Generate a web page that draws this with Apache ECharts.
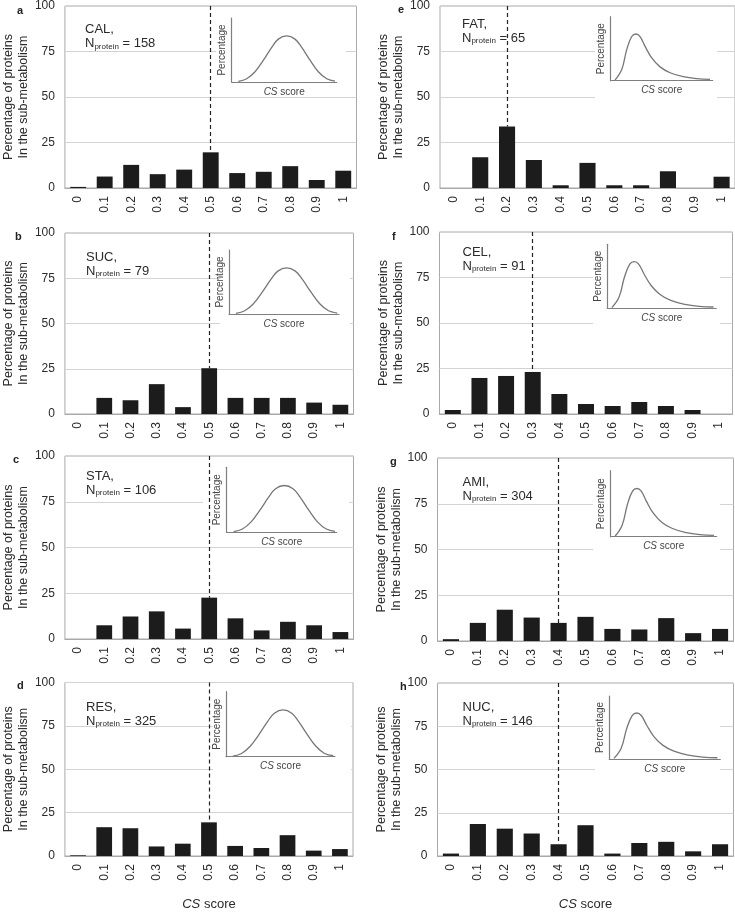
<!DOCTYPE html>
<html>
<head>
<meta charset="utf-8">
<script src="https://cdn.jsdelivr.net/npm/echarts@6/dist/echarts.min.js"></script>
<style>
  html, body { margin: 0; padding: 0; background: #fff; }
  #chart { width: 735px; height: 912px; }
</style>
</head>
<body>
<div id="chart"></div>
<script>
// CS score bins (x categories) and y ticks
const csBins = ['0', '0.1', '0.2', '0.3', '0.4', '0.5', '0.6', '0.7', '0.8', '0.9', '1'];
const yTicks = [0, 25, 50, 75, 100];

// panels a..h
const panelLetters = ['a', 'b', 'c', 'd', 'e', 'f', 'g', 'h'];
const groupNames = ['CAL', 'SUC', 'STA', 'RES', 'FAT', 'CEL', 'AMI', 'NUC'];
const nProtein = [158, 79, 106, 325, 65, 91, 304, 146];
const markedBin = ['0.5', '0.5', '0.5', '0.5', '0.2', '0.3', '0.4', '0.4'];

// percentage of proteins per bin
const calPct = [0.6, 6.3, 12.7, 7.6, 10.1, 19.6, 8.2, 8.9, 12.0, 4.4, 9.5];
const sucPct = [0, 8.9, 7.6, 16.5, 3.8, 25.3, 8.9, 8.9, 8.9, 6.3, 5.1];
const staPct = [0, 7.5, 12.3, 15.1, 5.7, 22.6, 11.3, 4.7, 9.4, 7.5, 3.8];
const resPct = [0.4, 16.6, 16.0, 5.5, 7.1, 19.4, 5.8, 4.6, 12.0, 3.1, 4.0];
const fatPct = [0, 16.9, 33.8, 15.4, 1.5, 13.8, 1.5, 1.5, 9.2, 0, 6.2];
const celPct = [2.2, 19.8, 20.9, 23.1, 11.0, 5.5, 4.4, 6.6, 4.4, 2.2, 0];
const amiPct = [1.0, 9.9, 17.1, 12.8, 9.9, 13.2, 6.6, 6.3, 12.5, 4.3, 6.6];
const nucPct = [1.4, 18.5, 15.8, 13.0, 6.8, 17.8, 1.4, 7.5, 8.2, 2.7, 6.8];
const panelPct = [calPct, sucPct, staPct, resPct, fatPct, celPct, amiPct, nucPct];

// inset sketch curves (0-100 scale)
const bellX = [6.3, 14.3, 22.2, 30.2, 38.1, 44.4, 52.4, 60.3, 66.7, 74.6, 82.5, 90.5, 98.4];
const bellY = [1, 5, 16, 34, 54, 67, 72, 67, 54, 34, 16, 5, 1.5];
const skewX = [4.2, 10.8, 15.7, 20.6, 24.8, 28.8, 33.7, 40.2, 48.4, 58.2, 71.2, 84.3, 97.4];
const skewY = [1, 17.5, 48.5, 69, 73, 69, 53.6, 35.6, 21.6, 12.4, 6.2, 3.1, 2];

// layout: grid / inset [left, top, width, height], white box behind inset, letter and note positions
const layout = [
  { grid: [61.5, 5, 295, 183],   inset: [231.7, 18, 105, 64],    box: [216, 7, 130, 90],     letter: [12, 0],    note: [80, 17.5],  bell: true },
  { grid: [59.5, 233, 294, 181], inset: [229, 250, 110, 64],     box: [220, 235, 130, 91],   letter: [10, 226],  note: [81, 245],   bell: true },
  { grid: [59.5, 456, 294, 183], inset: [226.7, 467.3, 110, 65], box: [203, 458, 146, 88],   letter: [8, 449.5], note: [81, 464],   bell: true },
  { grid: [58, 682.5, 295, 180], inset: [226, 691.7, 109, 65],   box: [213, 684.5, 138, 86], letter: [12, 675],  note: [81, 695],   bell: true, xName: true },
  { grid: [440, 6, 295, 182],    inset: [610.7, 16.7, 102, 64],  box: [595, 8, 122, 90],     letter: [393, -1],  note: [457, 12],   bell: false },
  { grid: [439.5, 232, 293, 182], inset: [607.3, 244.3, 109, 64], box: [593, 234, 127, 91],  letter: [387, 226], note: [457.5, 240], bell: false },
  { grid: [437.5, 458, 296, 183], inset: [610.7, 470.7, 106, 66], box: [593, 460, 127, 91],  letter: [385, 451], note: [457.5, 470], bell: false },
  { grid: [437.5, 683, 296, 181], inset: [609.3, 696, 111, 63],  box: [595, 685, 125, 91],   letter: [395, 676], note: [457.5, 695], bell: false, xName: true }
];

const FONT = '"Liberation Sans", Arial, sans-serif';
const TXT = '#2b2b2b';

const grids = [], xAxes = [], yAxes = [], series = [], titles = [], graphics = [];

// main histograms
layout.forEach((L, i) => {
  const vals = panelPct[i];
  grids.push({
    left: L.grid[0], top: L.grid[1], width: L.grid[2], height: L.grid[3],
    show: true, borderColor: '#a9a9a9', borderWidth: 1
  });
  xAxes.push({
    type: 'category', gridIndex: i, data: csBins,
    axisTick: { show: false },
    axisLine: { lineStyle: { color: '#a9a9a9', width: 1 } },
    axisLabel: { rotate: 90, fontSize: 12, color: TXT, margin: 8, fontFamily: FONT },
    name: L.xName ? '{i|CS} score' : '',
    nameLocation: 'middle', nameGap: 42,
    nameTextStyle: {
      fontSize: 13, color: TXT, fontFamily: FONT,
      rich: { i: { fontStyle: 'italic', fontSize: 13, color: TXT, fontFamily: FONT } }
    }
  });
  yAxes.push({
    type: 'value', gridIndex: i,
    min: yTicks[0], max: yTicks[yTicks.length - 1], interval: yTicks[1] - yTicks[0],
    axisLine: { show: false }, axisTick: { show: false },
    axisLabel: { fontSize: 12, color: TXT, margin: 10, fontFamily: FONT },
    splitLine: { lineStyle: { color: '#d3d3d3', width: 1 } },
    name: 'Percentage of proteins\nIn the sub-metabolism',
    nameLocation: 'middle', nameGap: 30,
    nameTextStyle: { fontSize: 12.5, lineHeight: 15, color: TXT, fontFamily: FONT }
  });
  const mi = csBins.indexOf(markedBin[i]);
  series.push({
    type: 'bar', xAxisIndex: i, yAxisIndex: i, data: vals,
    barWidth: '60%',
    itemStyle: { color: '#1c1c1c' },
    markLine: {
      silent: true, symbol: ['none', 'none'], label: { show: false },
      lineStyle: { type: [4, 3], color: '#222', width: 1.2 },
      data: [[{ coord: [markedBin[i], yTicks[yTicks.length - 1]] }, { coord: [markedBin[i], vals[mi]] }]]
    }
  });
  titles.push({
    left: L.letter[0], top: L.letter[1], text: panelLetters[i],
    textStyle: { fontSize: 11, fontWeight: 'bold', color: '#222', fontFamily: FONT }
  });
  titles.push({
    left: L.note[0], top: L.note[1],
    text: '{t|' + groupNames[i] + ',}\n{t|N}{s|protein}{t| = ' + nProtein[i] + '}',
    textStyle: {
      fontWeight: 'normal',
      rich: {
        t: { fontSize: 13, fontWeight: 'normal', lineHeight: 14, color: TXT, fontFamily: FONT },
        s: { fontSize: 8, fontWeight: 'normal', lineHeight: 5, verticalAlign: 'bottom', color: TXT, fontFamily: FONT }
      }
    }
  });
  graphics.push({
    type: 'rect', z: 1, silent: true,
    shape: { x: L.box[0], y: L.box[1], width: L.box[2], height: L.box[3] },
    style: { fill: '#fff' }
  });
});

// inset sketches
layout.forEach((L, i) => {
  const k = 8 + i;
  const cx = L.bell ? bellX : skewX;
  const cy = L.bell ? bellY : skewY;
  grids.push({ left: L.inset[0], top: L.inset[1], width: L.inset[2], height: L.inset[3] });
  xAxes.push({
    type: 'value', gridIndex: k, min: 0, max: 100, z: 4,
    axisLine: { show: true, onZero: false, lineStyle: { color: '#7f7f7f', width: 1.2 } },
    axisTick: { show: false }, axisLabel: { show: false }, splitLine: { show: false },
    name: '{i|CS} score', nameLocation: 'middle', nameGap: 5,
    nameTextStyle: {
      fontSize: 10, color: '#444', fontFamily: FONT, verticalAlign: 'top',
      rich: { i: { fontStyle: 'italic', fontSize: 10, color: '#444', fontFamily: FONT } }
    }
  });
  yAxes.push({
    type: 'value', gridIndex: k, min: 0, max: 100, z: 4,
    axisLine: { show: true, onZero: false, lineStyle: { color: '#7f7f7f', width: 1.2 } },
    axisTick: { show: false }, axisLabel: { show: false }, splitLine: { show: false },
    name: 'Percentage', nameLocation: 'middle', nameGap: 4,
    nameTextStyle: { fontSize: 10, color: '#444', fontFamily: FONT }
  });
  series.push({
    type: 'line', xAxisIndex: k, yAxisIndex: k, z: 4,
    data: cx.map((x, j) => [x, cy[j]]),
    smooth: 0.4, showSymbol: false, silent: true,
    lineStyle: { color: '#777', width: 1.3 }
  });
});

const chart = echarts.init(document.getElementById('chart'), null, { renderer: 'canvas' });
chart.setOption({
  animation: false,
  backgroundColor: '#fff',
  textStyle: { fontFamily: FONT },
  title: titles,
  grid: grids,
  xAxis: xAxes,
  yAxis: yAxes,
  graphic: { elements: graphics },
  series: series
});
</script>
</body>
</html>
